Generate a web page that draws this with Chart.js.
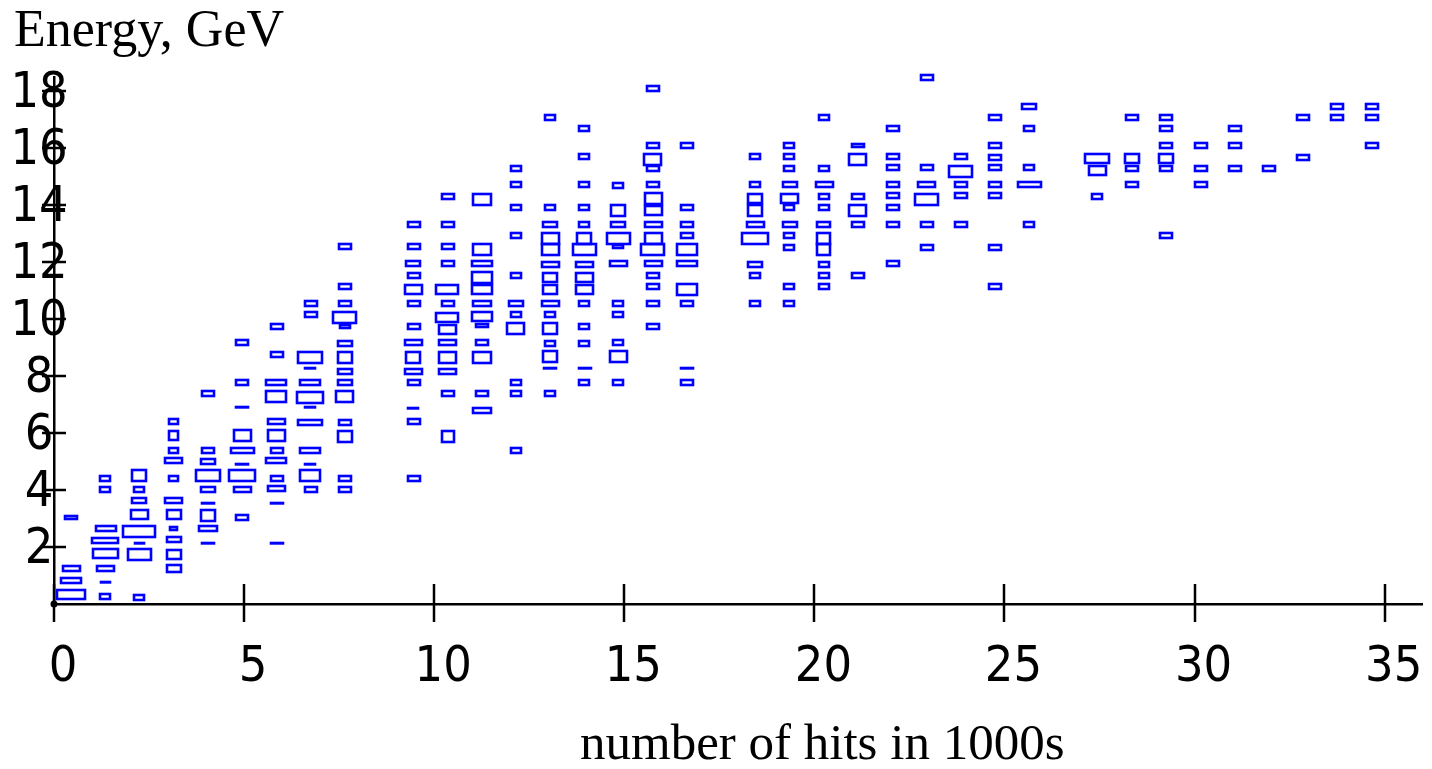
<!DOCTYPE html>
<html>
<head>
<meta charset="utf-8">
<title>Energy vs number of hits</title>
<script src="https://cdn.jsdelivr.net/npm/chart.js@4.4.0/dist/chart.umd.min.js"></script>
<style>
  html, body { margin: 0; padding: 0; background: #fff; }
  canvas { display: block; }
</style>
</head>
<body>
<canvas id="hitsChart" width="1432" height="769"></canvas>
<script>
// centre of each hits bin (in 1000s)
const binX = [0.45, 1.35, 2.25, 3.15, 4.05, 4.95, 5.85, 6.75, 7.65,
  9.45, 10.35, 11.25, 12.15, 13.05, 13.95, 14.85, 15.75, 16.65,
  18.45, 19.35, 20.25, 21.15, 22.05, 22.95, 23.85, 24.75, 25.65,
  27.45, 28.35, 29.25, 30.15, 31.05, 31.95, 32.85, 33.75, 34.65];

// energy (GeV) of every box, one list per hits bin
const energy = [
  [0.34, 0.85, 1.25, 3.04],
  [0.26, 0.76, 1.25, 1.75, 2.24, 2.66, 4.01, 4.41],
  [0.25, 1.75, 2.14, 2.55, 3.14, 3.65, 4.02, 4.53],
  [1.25, 1.74, 2.26, 2.64, 3.14, 3.64, 4.41, 5.03, 5.40, 5.90, 6.40],
  [2.13, 2.64, 3.12, 3.53, 4.02, 4.50, 5.01, 5.41, 7.38],
  [3.02, 4.02, 4.50, 4.91, 5.39, 5.91, 6.90, 7.78, 9.17],
  [2.14, 3.53, 4.03, 4.41, 5.02, 5.39, 5.91, 6.38, 7.30, 7.78, 8.76, 9.75],
  [4.01, 4.52, 4.91, 5.39, 6.39, 6.89, 7.27, 7.77, 8.28, 8.67, 10.15, 10.55],
  [4.01, 4.41, 5.90, 6.39, 7.29, 7.77, 8.18, 8.67, 9.16, 9.73, 10.07, 10.56, 11.15, 12.55],
  [4.41, 6.40, 6.88, 7.78, 8.18, 8.67, 9.17, 9.76, 10.55, 11.04, 11.53, 11.94, 12.54, 13.32],
  [5.89, 7.38, 8.18, 8.67, 9.17, 9.63, 10.04, 10.56, 11.04, 11.94, 12.54, 13.33, 14.32],
  [6.80, 7.38, 8.67, 9.17, 9.75, 10.07, 10.56, 11.04, 11.47, 11.94, 12.45, 14.20],
  [5.40, 7.38, 7.79, 9.66, 10.16, 10.56, 11.53, 12.94, 13.91, 14.71, 15.30],
  [7.38, 8.28, 8.68, 9.16, 9.66, 10.16, 10.56, 11.04, 11.46, 11.92, 12.43, 12.83, 13.33, 13.91, 17.09],
  [7.79, 8.28, 9.16, 9.76, 10.56, 11.04, 11.46, 11.92, 12.43, 12.83, 13.33, 13.91, 14.71, 15.71, 16.68],
  [7.79, 8.68, 9.17, 10.15, 10.56, 11.94, 12.52, 12.83, 13.33, 13.82, 14.70],
  [9.76, 10.56, 11.16, 11.54, 11.94, 12.46, 12.84, 13.33, 13.81, 14.23, 14.71, 15.29, 15.60, 16.09, 18.08],
  [7.79, 8.27, 10.56, 11.05, 11.94, 12.46, 12.93, 13.33, 13.92, 16.09],
  [10.56, 11.53, 11.92, 12.83, 13.32, 13.81, 14.22, 14.71, 15.71],
  [10.56, 11.15, 12.53, 12.94, 13.32, 13.91, 14.22, 14.71, 15.30, 15.71, 16.11],
  [11.15, 11.53, 11.92, 12.43, 12.83, 13.32, 13.91, 14.31, 14.71, 15.30, 17.09],
  [11.53, 13.32, 13.81, 14.31, 15.61, 16.09],
  [11.95, 13.32, 13.90, 14.31, 14.71, 15.32, 15.71, 16.69],
  [12.53, 13.32, 14.21, 14.71, 15.32, 18.47],
  [13.32, 14.31, 14.71, 15.20, 15.71],
  [11.15, 12.53, 14.31, 14.71, 15.31, 15.69, 16.09, 17.09],
  [13.32, 14.71, 15.31, 16.69, 17.48],
  [14.32, 15.21, 15.61],
  [14.71, 15.29, 15.61, 17.09],
  [12.94, 15.29, 15.61, 16.09, 16.68, 17.09],
  [14.71, 15.29, 16.09],
  [15.29, 16.09, 16.68],
  [15.29],
  [15.69, 17.09],
  [17.09, 17.48],
  [16.09, 17.09, 17.48]
];

// box width along the hits axis (in 1000s of hits)
const boxW = [
  [0.76, 0.53, 0.45, 0.32],
  [0.29, 0.26, 0.47, 0.68, 0.71, 0.53, 0.29, 0.29],
  [0.29, 0.63, 0.26, 0.87, 0.47, 0.39, 0.29, 0.39],
  [0.39, 0.39, 0.39, 0.21, 0.39, 0.47, 0.24, 0.47, 0.24, 0.24, 0.24],
  [0.32, 0.50, 0.39, 0.32, 0.39, 0.66, 0.39, 0.34, 0.34],
  [0.32, 0.47, 0.71, 0.32, 0.63, 0.47, 0.32, 0.32, 0.32],
  [0.32, 0.32, 0.47, 0.32, 0.55, 0.32, 0.47, 0.47, 0.55, 0.55, 0.32, 0.32],
  [0.32, 0.55, 0.29, 0.55, 0.66, 0.29, 0.71, 0.55, 0.29, 0.66, 0.32, 0.32],
  [0.32, 0.32, 0.39, 0.32, 0.47, 0.39, 0.39, 0.39, 0.39, 0.29, 0.63, 0.32, 0.32, 0.32],
  [0.32, 0.32, 0.29, 0.32, 0.47, 0.39, 0.47, 0.32, 0.32, 0.47, 0.32, 0.39, 0.32, 0.32],
  [0.32, 0.32, 0.47, 0.47, 0.47, 0.47, 0.60, 0.32, 0.60, 0.32, 0.32, 0.32, 0.32],
  [0.50, 0.32, 0.50, 0.32, 0.32, 0.55, 0.50, 0.55, 0.55, 0.55, 0.50, 0.50],
  [0.29, 0.29, 0.29, 0.47, 0.29, 0.39, 0.29, 0.29, 0.29, 0.29, 0.29],
  [0.29, 0.32, 0.39, 0.29, 0.39, 0.29, 0.47, 0.39, 0.39, 0.47, 0.47, 0.47, 0.39, 0.29, 0.29],
  [0.29, 0.32, 0.29, 0.29, 0.29, 0.47, 0.47, 0.47, 0.63, 0.39, 0.29, 0.29, 0.29, 0.29, 0.29],
  [0.29, 0.47, 0.29, 0.29, 0.29, 0.47, 0.29, 0.63, 0.39, 0.39, 0.29],
  [0.32, 0.32, 0.32, 0.32, 0.45, 0.63, 0.45, 0.45, 0.45, 0.45, 0.32, 0.32, 0.47, 0.32, 0.32],
  [0.32, 0.32, 0.32, 0.55, 0.55, 0.55, 0.32, 0.32, 0.32, 0.32],
  [0.29, 0.29, 0.39, 0.71, 0.47, 0.39, 0.39, 0.29, 0.29],
  [0.29, 0.29, 0.29, 0.29, 0.39, 0.29, 0.47, 0.39, 0.29, 0.29, 0.29],
  [0.29, 0.29, 0.29, 0.37, 0.37, 0.37, 0.29, 0.29, 0.45, 0.29, 0.29],
  [0.32, 0.32, 0.47, 0.32, 0.47, 0.32],
  [0.32, 0.32, 0.32, 0.32, 0.32, 0.32, 0.32, 0.32],
  [0.32, 0.32, 0.63, 0.47, 0.32, 0.32],
  [0.32, 0.32, 0.32, 0.63, 0.32],
  [0.32, 0.32, 0.32, 0.32, 0.32, 0.32, 0.32, 0.32],
  [0.29, 0.63, 0.29, 0.29, 0.39],
  [0.29, 0.45, 0.66],
  [0.32, 0.32, 0.39, 0.32],
  [0.32, 0.32, 0.39, 0.32, 0.32, 0.32],
  [0.32, 0.32, 0.32],
  [0.32, 0.32, 0.32],
  [0.32],
  [0.32, 0.32],
  [0.32, 0.32],
  [0.32, 0.32, 0.32]
];

// box height along the energy axis (GeV)
const boxH = [
  [0.35, 0.18, 0.18, 0.14],
  [0.18, 0.035, 0.18, 0.35, 0.18, 0.18, 0.18, 0.18],
  [0.18, 0.39, 0.035, 0.39, 0.35, 0.18, 0.18, 0.39],
  [0.25, 0.35, 0.18, 0.14, 0.35, 0.18, 0.18, 0.18, 0.18, 0.35, 0.18],
  [0.035, 0.21, 0.39, 0.035, 0.21, 0.39, 0.21, 0.18, 0.18],
  [0.21, 0.21, 0.39, 0.035, 0.21, 0.39, 0.035, 0.21, 0.18],
  [0.035, 0.035, 0.21, 0.21, 0.21, 0.21, 0.39, 0.21, 0.39, 0.21, 0.21, 0.18],
  [0.18, 0.39, 0.035, 0.18, 0.18, 0.035, 0.39, 0.18, 0.035, 0.39, 0.18, 0.18],
  [0.18, 0.18, 0.39, 0.18, 0.39, 0.18, 0.18, 0.39, 0.18, 0.11, 0.39, 0.18, 0.18, 0.18],
  [0.18, 0.18, 0.035, 0.18, 0.18, 0.39, 0.18, 0.18, 0.18, 0.35, 0.18, 0.18, 0.18, 0.18],
  [0.39, 0.18, 0.18, 0.39, 0.18, 0.35, 0.35, 0.18, 0.35, 0.18, 0.18, 0.18, 0.18],
  [0.18, 0.18, 0.39, 0.18, 0.14, 0.35, 0.18, 0.35, 0.39, 0.18, 0.39, 0.39],
  [0.18, 0.18, 0.18, 0.39, 0.18, 0.18, 0.18, 0.18, 0.18, 0.18, 0.18],
  [0.18, 0.035, 0.39, 0.18, 0.39, 0.18, 0.18, 0.35, 0.35, 0.18, 0.39, 0.39, 0.18, 0.18, 0.18],
  [0.18, 0.035, 0.18, 0.18, 0.18, 0.35, 0.35, 0.18, 0.39, 0.39, 0.18, 0.18, 0.18, 0.18, 0.18],
  [0.18, 0.39, 0.18, 0.18, 0.18, 0.18, 0.14, 0.39, 0.18, 0.39, 0.18],
  [0.18, 0.18, 0.18, 0.18, 0.18, 0.39, 0.39, 0.18, 0.35, 0.39, 0.18, 0.18, 0.39, 0.18, 0.18],
  [0.18, 0.035, 0.18, 0.39, 0.18, 0.39, 0.21, 0.18, 0.21, 0.18],
  [0.18, 0.18, 0.18, 0.39, 0.21, 0.39, 0.35, 0.18, 0.18],
  [0.18, 0.18, 0.18, 0.18, 0.21, 0.18, 0.35, 0.18, 0.18, 0.18, 0.18],
  [0.18, 0.18, 0.18, 0.39, 0.39, 0.21, 0.18, 0.18, 0.18, 0.18, 0.18],
  [0.18, 0.21, 0.39, 0.18, 0.39, 0.14],
  [0.21, 0.21, 0.21, 0.21, 0.18, 0.21, 0.18, 0.18],
  [0.18, 0.21, 0.39, 0.18, 0.21, 0.18],
  [0.21, 0.21, 0.21, 0.39, 0.18],
  [0.18, 0.18, 0.21, 0.21, 0.21, 0.18, 0.18, 0.18],
  [0.21, 0.21, 0.21, 0.18, 0.18],
  [0.18, 0.35, 0.35],
  [0.18, 0.18, 0.35, 0.18],
  [0.18, 0.18, 0.35, 0.18, 0.18, 0.18],
  [0.18, 0.18, 0.18],
  [0.18, 0.18, 0.18],
  [0.18],
  [0.18, 0.18],
  [0.18, 0.18],
  [0.18, 0.18, 0.18]
];

const xTicks = [0, 5, 10, 15, 20, 25, 30, 35];
const yTicks = [2, 4, 6, 8, 10, 12, 14, 16, 18];
const yTitle = 'Energy, GeV';
const xTitle = 'number of hits in 1000s';

const points = [];
binX.forEach((x, c) => {
  energy[c].forEach((y, i) => {
    points.push({ x: x, y: y, w: boxW[c][i], h: boxH[c][i] });
  });
});

const tickFont = { family: '"DejaVu Sans Condensed", "DejaVu Sans", sans-serif', size: 50, lineHeight: 1 };
const BOX_LINE = 2.6;
const AXIS_LINE = 2.5;

// draw each point as an open box sized by its width / height in data units
const boxPlugin = {
  id: 'boxes',
  afterDatasetsDraw(chart) {
    const { ctx, scales: { x, y } } = chart;
    const meta = chart.getDatasetMeta(0);
    const data = chart.data.datasets[0].data;
    const shrink = BOX_LINE - 2;
    ctx.save();
    ctx.strokeStyle = '#0000ff';
    ctx.lineWidth = BOX_LINE;
    meta.data.forEach((pt, i) => {
      const d = data[i];
      const w = x.getPixelForValue(d.x + d.w / 2) - x.getPixelForValue(d.x - d.w / 2) - shrink;
      const h = y.getPixelForValue(d.y - d.h / 2) - y.getPixelForValue(d.y + d.h / 2) - shrink;
      const left = Math.round(pt.x - w / 2);
      const top = Math.round(pt.y - h / 2);
      ctx.strokeRect(left, top, Math.max(0.5, Math.round(w)), Math.max(0.4, Math.round(h)));
    });
    ctx.restore();
  }
};

// tick marks crossing the axes, origin dot and the two axis titles
const axisPlugin = {
  id: 'axisExtras',
  afterDraw(chart) {
    const { ctx, scales: { x, y } } = chart;
    const x0 = Math.round(x.getPixelForValue(0));
    const y0 = Math.round(y.getPixelForValue(0));
    ctx.save();
    ctx.strokeStyle = '#000';
    ctx.lineWidth = AXIS_LINE;
    ctx.beginPath();
    x.ticks.forEach(t => {
      const px = Math.round(x.getPixelForValue(t.value));
      ctx.moveTo(px, y0 - 20);
      ctx.lineTo(px, y0 + 18);
    });
    y.ticks.forEach(t => {
      const py = Math.round(y.getPixelForValue(t.value));
      ctx.moveTo(x0 - 12, py);
      ctx.lineTo(x0 + 12, py);
    });
    ctx.stroke();

    ctx.fillStyle = '#000';
    ctx.beginPath();
    ctx.arc(x0, y0, 3.5, 0, Math.PI * 2);
    ctx.fill();

    ctx.textAlign = 'left';
    ctx.textBaseline = 'alphabetic';
    ctx.font = '52px "Liberation Serif", "Times New Roman", serif';
    ctx.fillText(yTitle, 14, 46);
    ctx.font = '51px "Liberation Serif", "Times New Roman", serif';
    ctx.fillText(xTitle, 580, 759);
    ctx.restore();
  }
};

const ctx = document.getElementById('hitsChart').getContext('2d');
const hitsChart = new Chart(ctx, {
  type: 'scatter',
  data: {
    datasets: [{
      label: 'Energy vs hits',
      data: points,
      pointRadius: 0,
      pointHoverRadius: 0
    }]
  },
  options: {
    responsive: false,
    animation: false,
    devicePixelRatio: 1,
    events: [],
    layout: { padding: { left: 0, top: 76.75, right: 9.3, bottom: 0 } },
    plugins: {
      legend: { display: false },
      tooltip: { enabled: false }
    },
    scales: {
      x: {
        type: 'linear',
        min: 0,
        max: 36,
        afterBuildTicks: s => { s.ticks = xTicks.map(v => ({ value: v })); },
        afterFit: s => { s.height = 165; s.paddingLeft = 0; s.paddingRight = 0; },
        grid: { display: false, drawTicks: false },
        border: { display: true, color: '#000', width: AXIS_LINE },
        ticks: { color: '#000', font: tickFont, padding: 39, labelOffset: 9, autoSkip: false, maxRotation: 0 }
      },
      y: {
        type: 'linear',
        min: 0,
        max: 18.5,
        afterBuildTicks: s => { s.ticks = yTicks.map(v => ({ value: v })); },
        afterFit: s => { s.width = 54; s.paddingTop = 0; s.paddingBottom = 0; },
        grid: { display: false, drawTicks: false },
        border: { display: true, color: '#000', width: AXIS_LINE },
        // mirrored + centred so the labels sit across the axis line without being clipped
        ticks: { color: '#000', font: tickFont, mirror: true, crossAlign: 'center', padding: -43.5, labelOffset: 3, autoSkip: false }
      }
    }
  },
  plugins: [boxPlugin, axisPlugin]
});
</script>
</body>
</html>
